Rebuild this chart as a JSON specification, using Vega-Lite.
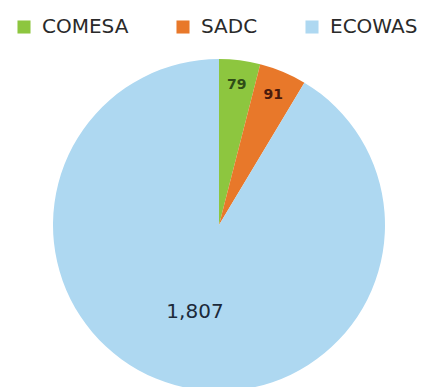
{
  "$schema": "https://vega.github.io/schema/vega-lite/v6.json",
  "width": 418,
  "height": 324,
  "autosize": "none",
  "padding": {"left": 10, "top": 63, "right": 0, "bottom": 0},
  "background": "white",
  "config": {"view": {"stroke": null}},
  "data": {"values": [
    {"region": "COMESA", "value": 79},
    {"region": "SADC", "value": 91},
    {"region": "ECOWAS", "value": 1807}
  ]},
  "encoding": {
    "theta": {"field": "value", "type": "quantitative", "stack": true},
    "order": {"field": "value", "type": "quantitative", "sort": "ascending"}
  },
  "layer": [
    {
      "mark": {"type": "arc", "radius": 166},
      "encoding": {
        "color": {
          "field": "region", "type": "nominal",
          "sort": ["COMESA", "SADC", "ECOWAS"],
          "scale": {"domain": ["COMESA", "SADC", "ECOWAS"], "range": ["#8DC63F", "#E8782A", "#AED8F1"]},
          "legend": {
            "title": null, "orient": "none", "direction": "horizontal",
            "legendX": 4, "legendY": -46,
            "symbolType": "square", "symbolSize": 170, "symbolStrokeWidth": 0,
            "labelFont": "DejaVu Sans", "labelFontSize": 20, "labelColor": "#2a2a2a",
            "labelOffset": 8, "columnPadding": 44, "labelLimit": 200
          }
        }
      }
    },
    {
      "mark": {"type": "text", "radius": 141, "font": "DejaVu Sans", "fontSize": 14, "fontWeight": "bold"},
      "encoding": {
        "text": {"condition": {"test": "datum.value < 1000", "field": "value", "type": "quantitative", "format": ","}, "value": ""},
        "fill": {"condition": {"test": "datum.region === 'COMESA'", "value": "#2f4d17"}, "value": "#4a1a0c"}
      }
    },
    {
      "mark": {"type": "text", "radius": 90, "font": "DejaVu Sans", "fontSize": 20, "fill": "#1c2a3a"},
      "encoding": {
        "text": {"condition": {"test": "datum.value >= 1000", "field": "value", "type": "quantitative", "format": ","}, "value": ""}
      }
    }
  ]
}
